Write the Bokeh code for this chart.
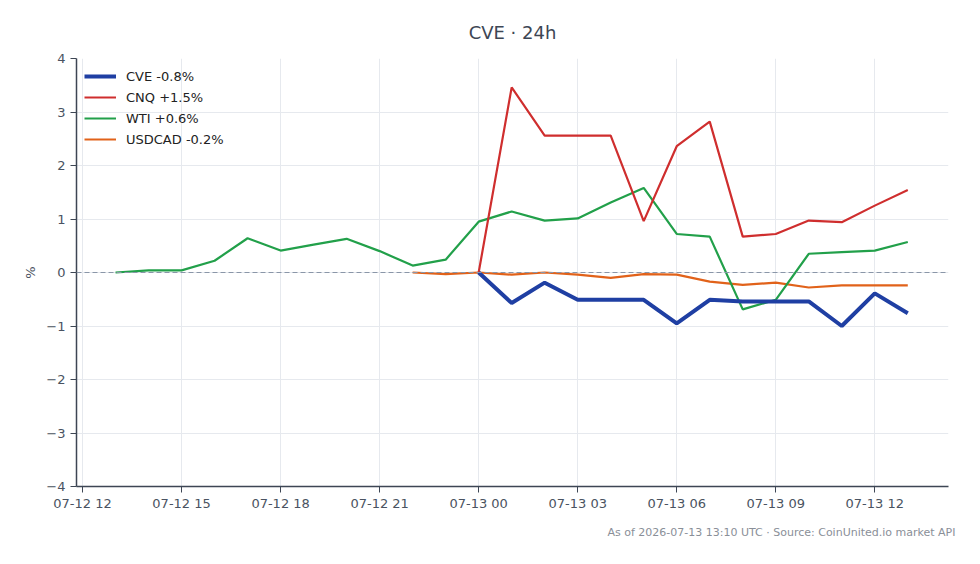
import pandas as pd
from bokeh.plotting import figure
from bokeh.models import (FixedTicker, DatetimeTickFormatter, CustomJSTickFormatter,
                          Span, Legend, LegendItem, Title, Range1d)
from bokeh.embed import file_html
from bokeh.resources import INLINE

# ---- data ----
hours = list(pd.date_range("2026-07-12 13:00", "2026-07-13 13:00", freq="h"))

wti = [0.00, 0.04, 0.04, 0.22, 0.64, 0.41, 0.52, 0.63, 0.40, 0.13, 0.24,
       0.95, 1.14, 0.97, 1.01, 1.31, 1.58, 0.72, 0.67, -0.69, -0.51, 0.35, 0.38, 0.41, 0.57]
usdcad_times = hours[9:]
usdcad = [0.00, -0.03, 0.00, -0.04, 0.00, -0.04, -0.10, -0.03, -0.04, -0.17,
          -0.23, -0.19, -0.28, -0.24, -0.24, -0.24]
cvecnq_times = hours[11:]
cnq = [0.00, 3.46, 2.56, 2.56, 2.56, 0.96, 2.36, 2.82, 0.67, 0.72, 0.97, 0.94, 1.25, 1.54]
cve = [0.00, -0.57, -0.19, -0.51, -0.51, -0.51, -0.95, -0.51, -0.54, -0.54, -0.54, -1.00, -0.39, -0.76]

labels = ["CVE -0.8%", "CNQ +1.5%", "WTI +0.6%", "USDCAD -0.2%"]
x_ticks = list(pd.date_range("2026-07-12 12:00", "2026-07-13 12:00", freq="3h"))
y_ticks = [-4, -3, -2, -1, 0, 1, 2, 3, 4]

title_text = "CVE \u00b7 24h"
footer_text = "As of 2026-07-13 13:10 UTC \u00b7 Source: CoinUnited.io market API"

FONT = "DejaVu Sans"
AXC = "#3d4654"
TXC = "#4a5361"

p = figure(width=980, height=564, x_axis_type="datetime", output_backend="svg",
           toolbar_location=None,
           x_range=Range1d(pd.Timestamp("2026-07-12 11:49"), pd.Timestamp("2026-07-13 14:14")),
           y_range=Range1d(-4, 4),
           min_border_left=76, min_border_right=32, min_border_top=58, min_border_bottom=78)

p.title.text = title_text
p.title.align = "center"
p.title.text_font = FONT
p.title.text_font_size = "18px"
p.title.text_font_style = "normal"
p.title.text_color = "#3d4654"
p.title.standoff = 32

p.outline_line_color = None
p.background_fill_color = "white"
p.border_fill_color = "white"

zero = Span(location=0, dimension="width", line_color="#8a96a8", line_dash="5 3", line_width=1)
p.add_layout(zero)

r_usd = p.line(usdcad_times, usdcad, line_color="#e1621a", line_width=2.2)
r_wti = p.line(hours, wti, line_color="#22a04a", line_width=2.2)
r_cnq = p.line(cvecnq_times, cnq, line_color="#cf2e2e", line_width=2.2)
r_cve = p.line(cvecnq_times, cve, line_color="#1f3fa3", line_width=4)

legend = Legend(items=[LegendItem(label=labels[0], renderers=[r_cve]),
                       LegendItem(label=labels[1], renderers=[r_cnq]),
                       LegendItem(label=labels[2], renderers=[r_wti]),
                       LegendItem(label=labels[3], renderers=[r_usd])],
                location="top_left", border_line_color=None, background_fill_alpha=0,
                label_text_font=FONT, label_text_font_size="13px", label_text_color="#222222",
                glyph_width=32, label_standoff=10, spacing=1, padding=11, margin=8,
                label_height=20, glyph_height=20)
p.add_layout(legend)

p.xaxis.ticker = FixedTicker(ticks=[t.value // 10**6 for t in x_ticks])
p.xaxis.formatter = DatetimeTickFormatter(hours="%m-%d %H", days="%m-%d %H",
                                          hourmin="%m-%d %H", minutes="%m-%d %H")
p.yaxis.ticker = FixedTicker(ticks=y_ticks)
p.yaxis.formatter = CustomJSTickFormatter(code="return tick < 0 ? '\\u2212' + Math.abs(tick) : String(tick);")
p.yaxis.axis_label = "%"

for ax in (p.xaxis, p.yaxis):
    ax.axis_line_color = AXC
    ax.axis_line_width = 1.5
    ax.major_tick_line_color = AXC
    ax.major_tick_out = 6
    ax.major_tick_in = 0
    ax.minor_tick_line_color = None
    ax.major_label_text_font = FONT
    ax.major_label_text_font_size = "13px"
    ax.major_label_text_color = TXC
    ax.axis_label_text_font = FONT
    ax.axis_label_text_font_size = "13px"
    ax.axis_label_text_font_style = "normal"
    ax.axis_label_text_color = TXC
p.xaxis.major_label_standoff = 3

p.xgrid.ticker = p.xaxis.ticker
p.grid.grid_line_color = "#e6e9ee"
p.grid.grid_line_width = 1

footer = Title(text=footer_text, align="right", text_font=FONT, text_font_size="11px",
               text_font_style="normal", text_color="#8a8f98", standoff=20, offset=-7)
p.add_layout(footer, "below")

open("out.html", "w").write(file_html(p, INLINE))
